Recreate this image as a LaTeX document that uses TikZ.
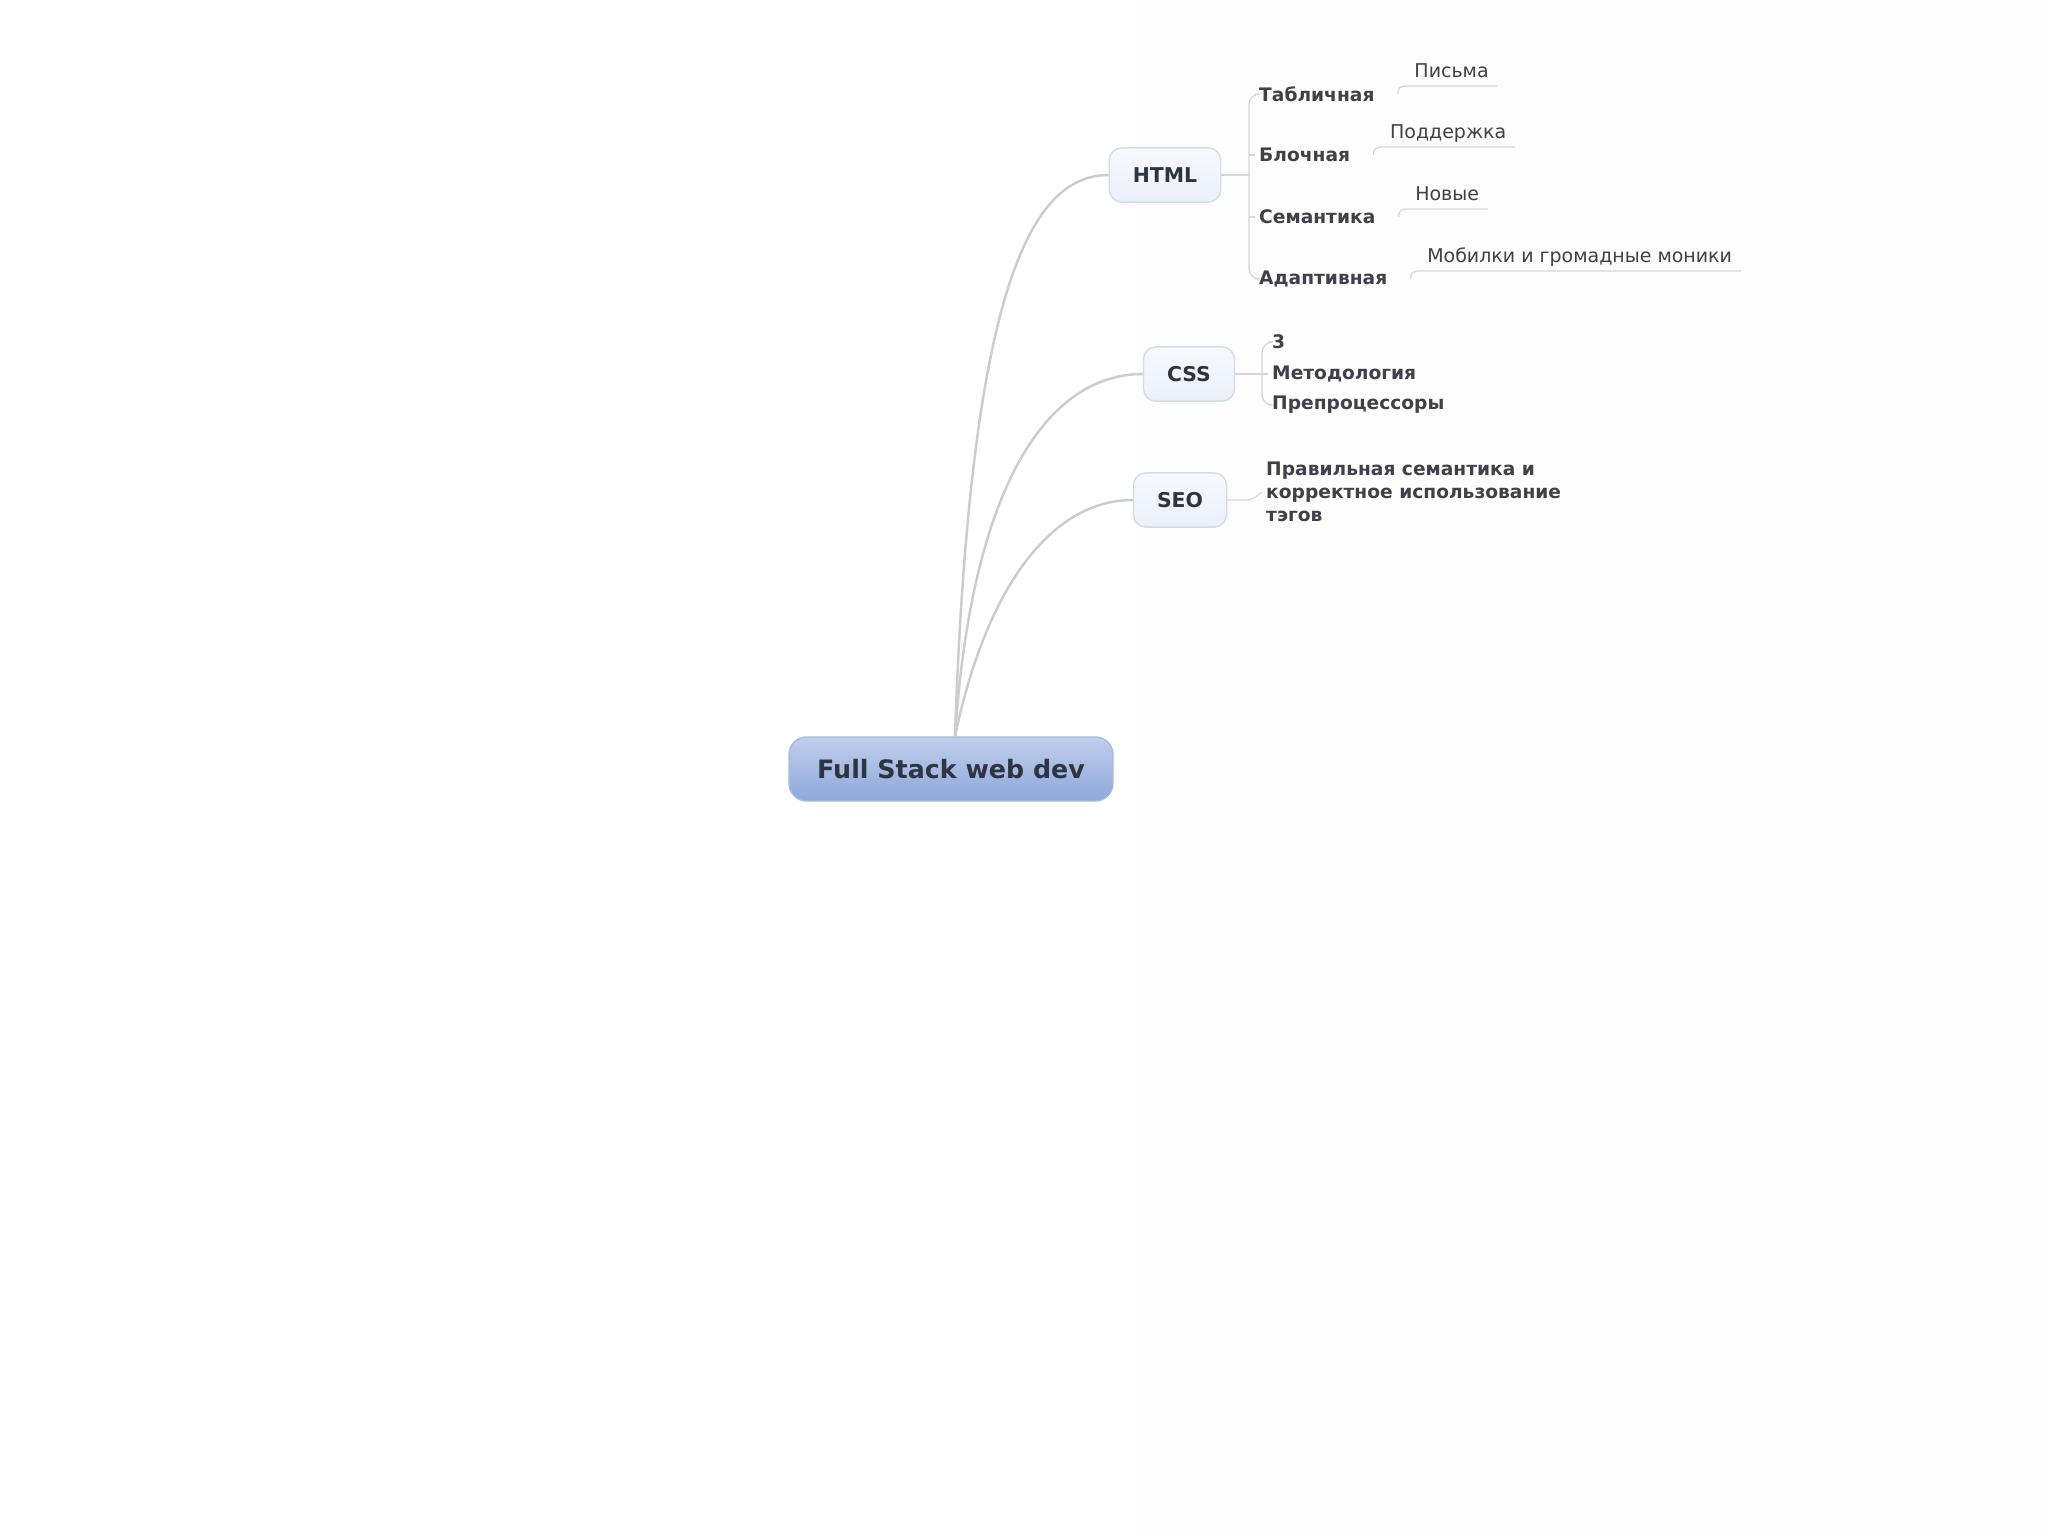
\documentclass[tikz,border=0pt]{standalone}
\usepackage{fontspec}
\setmainfont{DejaVu Sans}
\usetikzlibrary{positioning}
\definecolor{rootTop}{RGB}{192,206,236}
\definecolor{rootBottom}{RGB}{141,168,218}
\definecolor{rootLine}{RGB}{166,186,224}
\definecolor{topicFill}{RGB}{234,239,250}
\definecolor{topicLine}{RGB}{212,219,233}
\definecolor{branchGray}{RGB}{204,204,204}
\definecolor{twigGray}{RGB}{214,214,214}
\definecolor{inkDark}{RGB}{46,52,64}
\definecolor{inkText}{RGB}{64,64,72}
\definecolor{paperTint}{RGB}{253,253,254}

\tikzset{
  rootbox/.style={rounded corners=5pt, draw=rootLine, top color=rootTop, bottom color=rootBottom,
    text=inkDark, font=\fontsize{7.2}{8.6}\selectfont\bfseries, inner xsep=8pt, minimum height=18.2pt},
  topic/.style={rounded corners=3.5pt, draw=topicLine, top color=topicFill!35!white, bottom color=topicFill,
    text=inkDark, font=\fontsize{5.8}{7}\selectfont\bfseries, inner xsep=6.7pt, minimum height=15.4pt},
  subtopic/.style={anchor=west, inner xsep=1pt, text=inkText, font=\fontsize{5.3}{6.5}\selectfont\bfseries},
  leaf/.style={anchor=south west, inner xsep=2.3pt, inner ysep=1pt, text height=4pt, text depth=1.3pt,
    text=inkText, font=\fontsize{5.4}{6.5}\selectfont},
  branch/.style={draw=branchGray, line width=0.7pt},
  twig/.style={draw=twigGray, line width=0.35pt},
}

\begin{document}
\begin{tikzpicture}[x=0.01cm, y=-0.01cm]
\useasboundingbox (0,0) rectangle (2048,1536);
\fill[white] (0,0) rectangle (2048,1536);
\fill[paperTint] (1136,0) rectangle (2048,1536);

% Central topic
\node[rootbox] (root) at (951,769) {Full Stack web dev};
\coordinate (hub) at ([shift={(4,0)}]root.north);

% Main topics
\node[topic] (html) at (1165,175) {HTML};
\node[topic] (css) at (1189,374) {CSS};
\node[topic] (seo) at (1180,500) {SEO};

% Curved branches from the centre
\draw[branch] (hub) .. controls (970,290) and (1030,175) .. (html.west);
\draw[branch] (hub) .. controls (972,480) and (1050,374) .. (css.west);
\draw[branch] (hub) .. controls (988,580) and (1055,500) .. (seo.west);

% HTML subtopics
\node[subtopic] (tabl) at (1255,94) {Табличная};
\node[subtopic] (bloch) at (1255,155) {Блочная};
\node[subtopic] (sem) at (1255,217) {Семантика};
\node[subtopic] (adap) at (1255,279) {Адаптивная};

\coordinate (hfork) at (1249,175);
\draw[twig] (html.east) -- (hfork);
\draw[twig, rounded corners=3pt] (tabl.west) -| (hfork) |- (adap.west);
\draw[twig] (hfork |- bloch.west) -- (bloch.west);
\draw[twig] (hfork |- sem.west) -- (sem.west);

% Leaves under HTML
\node[leaf] (pisma) at ([shift={(27,-8)}]tabl.east) {Письма};
\node[leaf] (podd) at ([shift={(27,-8)}]bloch.east) {Поддержка};
\node[leaf] (novye) at ([shift={(27,-8)}]sem.east) {Новые};
\node[leaf] (mobil) at ([shift={(27,-8)}]adap.east) {Мобилки и громадные моники};

\foreach \p/\l in {tabl/pisma, bloch/podd, sem/novye, adap/mobil} {
  \draw[twig] ([shift={(19,0)}]\p.east) .. controls +(0,-6) and +(-5,0) .. (\l.south west) -- (\l.south east);
}

% CSS subtopics
\node[subtopic] (three) at (1268,342) {3};
\node[subtopic] (method) at (1268,374) {Методология};
\node[subtopic] (preproc) at (1268,405) {Препроцессоры};

\coordinate (cfork) at (1262,374);
\draw[twig] (css.east) -- (method.west);
\draw[twig, rounded corners=3pt] (three.west) -| (cfork) |- (preproc.west);

% SEO subtopic
\node[subtopic, align=left] (seotext) at (1262,492) {Правильная семантика и\\корректное использование\\тэгов};
\draw[twig] (seo.east) -- ++(20,0) .. controls +(6,0) and +(-4,3) .. (seotext.west);

\end{tikzpicture}
\end{document}
